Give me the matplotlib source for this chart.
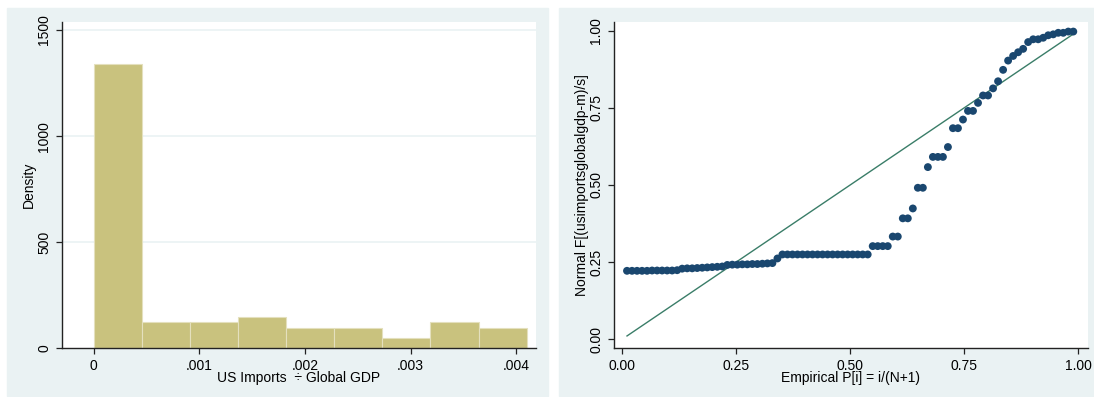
import numpy as np
import matplotlib
matplotlib.use("Agg")
import matplotlib.pyplot as plt
from matplotlib.patches import Rectangle

plt.rcParams['font.family'] = ['Liberation Sans', 'DejaVu Sans']
plt.rcParams['font.size'] = 10

# histogram of US imports / global GDP (density scale)
bin_edges = [0.0, 0.000456, 0.000911, 0.001367, 0.001822, 0.002278,
             0.002733, 0.003189, 0.003644, 0.0041]
density = [1340, 122, 122, 146, 98, 98, 49, 122, 98]
hist_xticks = [0, 0.001, 0.002, 0.003, 0.004]
hist_xlabels = ["0", ".001", ".002", ".003", ".004"]
hist_yticks = [0, 500, 1000, 1500]

# normal probability plot: sorted normal F values, one per observation
normal_f = [0.222, 0.222, 0.222, 0.222, 0.222, 0.223, 0.223, 0.223, 0.223, 0.223, 0.224,
            0.229, 0.230, 0.230, 0.231, 0.232, 0.233, 0.234, 0.235, 0.236,
            0.241, 0.242, 0.242, 0.243, 0.243, 0.244, 0.244, 0.245, 0.246, 0.247,
            0.262,
            0.275, 0.275, 0.275, 0.275, 0.275, 0.275, 0.275, 0.275, 0.275,
            0.275, 0.275, 0.275, 0.275, 0.275, 0.275, 0.275, 0.275, 0.275,
            0.302, 0.302, 0.302, 0.302,
            0.333, 0.333, 0.392, 0.392, 0.424, 0.491, 0.491, 0.558,
            0.591, 0.591, 0.591, 0.623, 0.684, 0.684, 0.712, 0.740, 0.740,
            0.766, 0.790, 0.790, 0.813, 0.836, 0.873, 0.903, 0.918, 0.930,
            0.941, 0.963, 0.972, 0.972, 0.977, 0.985, 0.988, 0.993, 0.993,
            0.997, 0.997]
qq_ticks = [0, 0.25, 0.5, 0.75, 1.0]
qq_labels = ["0.00", "0.25", "0.50", "0.75", "1.00"]

n = len(normal_f)
empirical_p = np.arange(1, n + 1) / (n + 1)

W, H = 1094, 397
bg = "#EAF2F3"
fig = plt.figure(figsize=(W / 100, H / 100), dpi=100)
fig.patch.set_facecolor("white")

# panel backgrounds, kept behind the axes
for x0, w in [(7, 541), (559, 540)]:
    fig.add_artist(Rectangle((x0 / W, 1 / H), w / W, 388 / H,
                             transform=fig.transFigure, color=bg, zorder=-5))

ax_w = 474.3 / W
ax_b = (H - 348.3) / H
ax_h = 326.3 / H
ax1 = fig.add_axes([61.7 / W, ax_b, ax_w, ax_h])
ax2 = fig.add_axes([613.5 / W, ax_b, ax_w, ax_h])


def stata_axes(ax):
    ax.set_facecolor("white")
    for s in ["top", "right"]:
        ax.spines[s].set_visible(False)
    for s in ["left", "bottom"]:
        ax.spines[s].set_color("#222222")
        ax.spines[s].set_linewidth(1.0)
    ax.tick_params(direction="out", length=4, width=0.9, color="#222222", pad=3.5)


# left: histogram
stata_axes(ax1)
widths = np.diff(bin_edges)
ax1.bar(bin_edges[:-1], density, width=widths, align="edge",
        color="#C9C27E", edgecolor="#E4E0BE", linewidth=0.8, zorder=2)
for t in hist_yticks[1:]:
    ax1.axhline(t, color=bg, linewidth=1.2, zorder=1)
ax1.set_xlim(-0.000303, 0.004188)
ax1.set_ylim(0, 1538)
ax1.set_xticks(hist_xticks)
ax1.set_xticklabels(hist_xlabels)
ax1.set_yticks(hist_yticks)
ax1.set_yticklabels([str(t) for t in hist_yticks], rotation=90, va="center")
ax1.set_xlabel("US Imports  \u00f7 Global GDP", labelpad=-1)
ax1.set_ylabel("Density", labelpad=1)

# right: normal probability plot
stata_axes(ax2)
ax2.plot([empirical_p[0], empirical_p[-1]], [empirical_p[0], empirical_p[-1]],
         color="#3A7D68", linewidth=1.0, zorder=2)
ax2.scatter(empirical_p, normal_f, s=32, color="#1A476F", edgecolors="none", zorder=3)
ax2.set_xlim(-0.0186, 1.0208)
ax2.set_ylim(-0.029, 1.028)
ax2.set_xticks(qq_ticks)
ax2.set_xticklabels(qq_labels)
ax2.set_yticks(qq_ticks)
ax2.set_yticklabels(qq_labels, rotation=90, va="center")
ax2.set_xlabel("Empirical P[i] = i/(N+1)", labelpad=-1)
ax2.set_ylabel("Normal F[(usimportsglobalgdp-m)/s]", labelpad=0)

fig.savefig("out.png", dpi=100)
